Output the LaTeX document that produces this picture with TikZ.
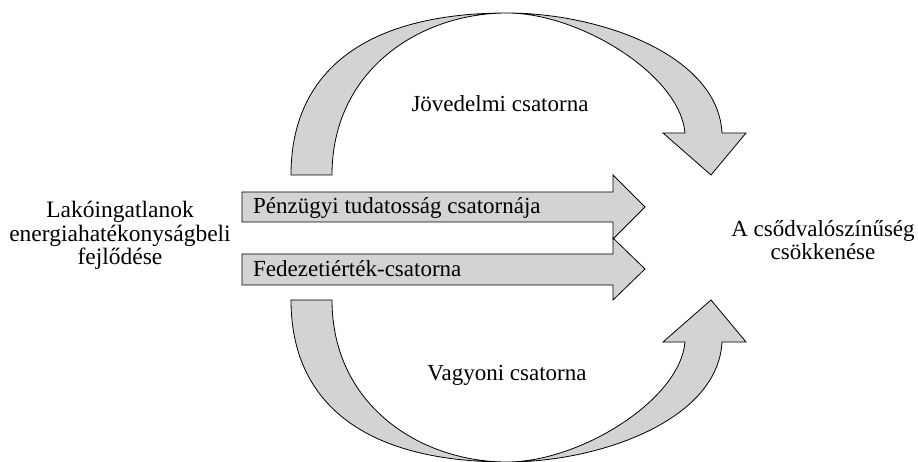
\documentclass[tikz,border=0pt]{standalone}
\usepackage{fontspec}
\setmainfont{Liberation Serif}
\definecolor{arrowgray}{RGB}{211,211,212}
\begin{document}
\begin{tikzpicture}[x=1pt,y=-1pt,
  blockarrow/.style={draw=black, fill=arrowgray, line width=0.8pt, line join=miter},
  lbl/.style={font=\fontsize{23}{23.5}\selectfont, inner sep=0pt, align=center}]
\useasboundingbox (0,0) rectangle (918,462);
% top curved arrow
\draw[blockarrow] (291,175) .. controls (291,70) and (367,13) .. (507,13)
  .. controls (600,13) and (718,55) .. (722,133) -- (746,133) -- (711,175) -- (663,133) -- (685,133)
  .. controls (680,75) and (580,13) .. (507,13)
  .. controls (420,13) and (332,70) .. (332,175) -- cycle;
% bottom curved arrow
\draw[blockarrow] (291,300) .. controls (291,405) and (367,462) .. (507,462)
  .. controls (600,462) and (718,420) .. (722,342) -- (746,342) -- (711,300) -- (663,342) -- (685,342)
  .. controls (680,400) and (580,462) .. (507,462)
  .. controls (420,462) and (332,405) .. (332,300) -- cycle;
% straight arrows
\draw[blockarrow] (242,192) -- (613,192) -- (613,175) -- (645,207) -- (613,239) -- (613,222) -- (242,222) -- cycle;
\draw[blockarrow] (242,254) -- (613,254) -- (613,238) -- (645,269) -- (613,300) -- (613,285) -- (242,285) -- cycle;
% labels
\node[lbl, anchor=base west] (pt) at (253,214) {Pénzügyi tudatosság csatornája};
\node[lbl, anchor=base west] (fc) at (253,277) {Fedezetiérték-csatorna};
\node[lbl, anchor=base] (jc) at (500,112) {Jövedelmi csatorna};
\node[lbl, anchor=base] (vc) at (507,380) {Vagyoni csatorna};
\node[lbl, anchor=base, font=\fontsize{23.5}{23.5}\selectfont] (src) at (120,265) {Lakóingatlanok\\energiahatékonyságbeli\\fejlődése};
\node[lbl, anchor=base] (dst) at (823,260) {A csődvalószínűség\\csökkenése};
\end{tikzpicture}
\end{document}
